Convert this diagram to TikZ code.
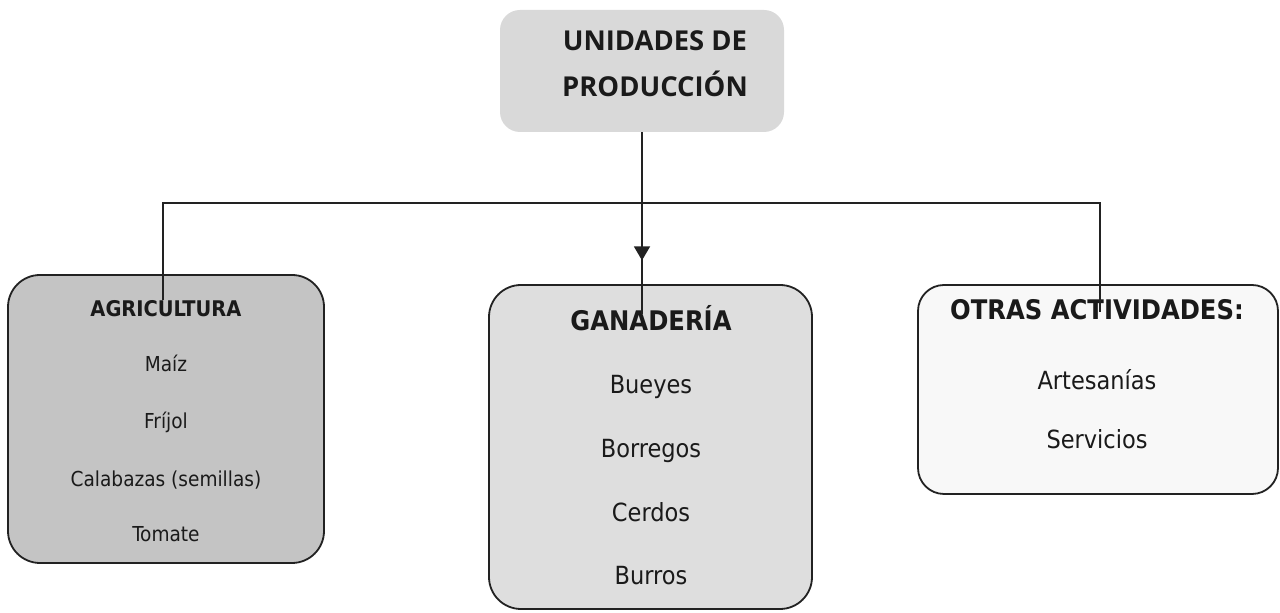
\documentclass[tikz,border=0pt]{standalone}
\usepackage{fontspec}
\setmainfont{DejaVu Sans Condensed}[BoldFont={DejaVu Sans Condensed Bold}]
\newfontfamily\titlefont{Open Sans}
\usetikzlibrary{
  positioning,
  arrows.meta,
  decorations.markings
}
\definecolor{titleGrey}{HTML}{D9D9D9}
\definecolor{agriGrey}{HTML}{C4C4C4}
\definecolor{ganaGrey}{HTML}{DEDEDE}
\definecolor{otrasGrey}{HTML}{F8F8F8}
\definecolor{lineDark}{HTML}{222222}
\definecolor{textDark}{HTML}{1A1A1A}
\tikzset{
  baseBox/.style={
    draw=lineDark, line width=0.9pt, rounded corners=16pt, inner sep=0pt
  },
  titleBox/.style={
    fill=titleGrey, rounded corners=10pt, inner sep=0pt,
    minimum width=142pt, minimum height=61pt
  },
  agriBox/.style={
    baseBox, fill=agriGrey, minimum width=158pt, minimum height=144pt
  },
  ganaBox/.style={
    baseBox, fill=ganaGrey, minimum width=161.5pt, minimum height=162pt
  },
  otrasBox/.style={
    baseBox, fill=otrasGrey, rounded corners=13pt,
    minimum width=180pt, minimum height=104.5pt
  },
  textBase/.style={
    text=textDark, inner sep=0pt, text height=1.5ex, text depth=.25ex
  },
  titleText/.style={
    textBase, font=\titlefont\bfseries\fontsize{13.7}{16}\selectfont
  },
  headSmall/.style={
    textBase, font=\bfseries\fontsize{10.8}{13}\selectfont
  },
  headBig/.style={
    textBase, font=\bfseries\fontsize{13.5}{16}\selectfont
  },
  itemSmall/.style={
    textBase, font=\fontsize{10.3}{12}\selectfont
  },
  itemBig/.style={
    textBase, font=\fontsize{12.5}{15}\selectfont
  },
  link/.style={
    draw=lineDark, line width=0.8pt
  },
  arrowMid/.style={
    postaction={decorate},
    decoration={markings,
      mark=at position 64pt with {\arrow{Triangle[length=7pt,width=8pt]}}}
  }
}

\begin{document}
\begin{tikzpicture}[x=0.5pt, y=-0.5pt]
\useasboundingbox (0,0) rectangle (1280,613);

% ── BOXES ──────────────────────────────────────────────────────────
\node[titleBox] (prodBox)  at (642,71)     {};
\node[agriBox]  (agriBox)  at (166,419)    {};
\node[ganaBox]  (ganaBox)  at (650.5,447)  {};
\node[otrasBox] (otrasBox) at (1098,389.5) {};

% ── TITLE ──────────────────────────────────────────────────────────
\node[titleText] (prodTop)    at (655,44) {UNIDADES DE};
\node[titleText] (prodBottom) at (655,90) {PRODUCCIÓN};

% ── AGRICULTURA ────────────────────────────────────────────────────
\node[headSmall] (agriTitle) at (166,309.5) {AGRICULTURA};
\node[itemSmall] (maiz)      at (166,365)   {Maíz};
\node[itemSmall] (frijol)    at (166,422)   {Fríjol};
\node[itemSmall] (calabazas) at (166,479.5) {Calabazas (semillas)};
\node[itemSmall] (tomate)    at (166,534.5) {Tomate};

% ── GANADERÍA ──────────────────────────────────────────────────────
\node[headBig]  (ganaTitle) at (651,324) {GANADERÍA};
\node[itemBig]  (bueyes)    at (651,387) {Bueyes};
\node[itemBig]  (borregos)  at (651,451) {Borregos};
\node[itemBig]  (cerdos)    at (651,515) {Cerdos};
\node[itemBig]  (burros)    at (651,578) {Burros};

% ── OTRAS ACTIVIDADES ──────────────────────────────────────────────
\node[headBig] (otrasTitle) at (1097,312.5) {OTRAS ACTIVIDADES:};
\node[itemBig] (artesanias) at (1097,383)   {Artesanías};
\node[itemBig] (servicios)  at (1097,442)   {Servicios};

% ── EDGES ───────────────────────────────────────────────────────────
\coordinate (barLeft)  at (163,203);
\coordinate (barRight) at (1100,203);

% Bar over the three groups
\draw[link] (barLeft |- agriTitle.north) -- (barLeft) -- (barRight)
  -- (barRight |- otrasTitle.center);

% Title → Ganadería
\draw[link, arrowMid] (prodBox.south) -- (prodBox.south |- ganaTitle.north);

\end{tikzpicture}
\end{document}
